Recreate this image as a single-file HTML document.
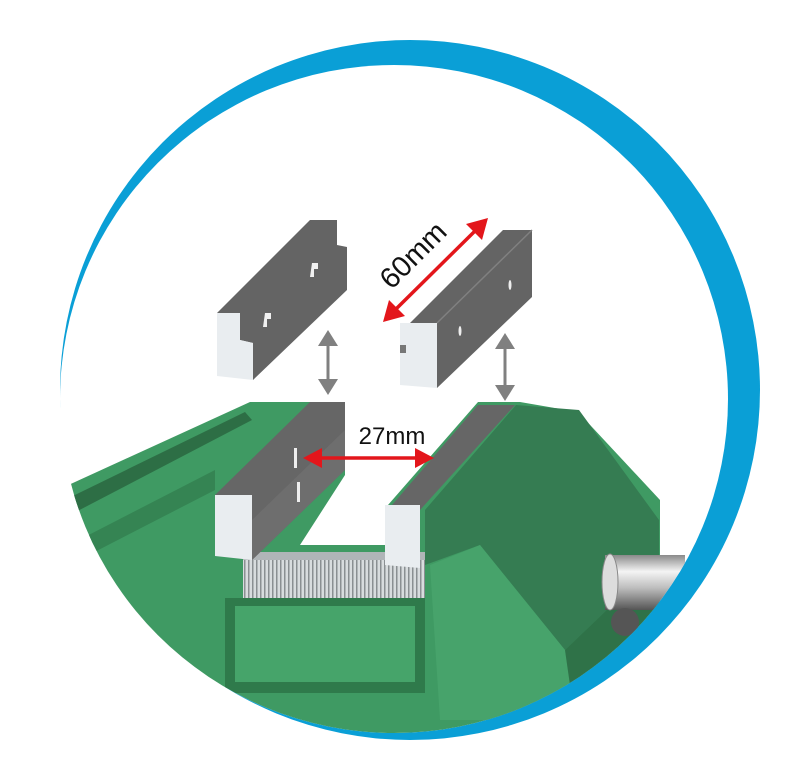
<!DOCTYPE html>
<html><head><meta charset="utf-8"><style>
html,body{margin:0;padding:0;background:#fff;width:800px;height:757px;overflow:hidden}
svg{display:block}
</style></head><body>
<svg width="800" height="757" viewBox="0 0 800 757" xmlns="http://www.w3.org/2000/svg">
<defs>
<clipPath id="c"><circle cx="394" cy="399" r="334"/></clipPath>
<pattern id="teeth" width="4" height="10" patternUnits="userSpaceOnUse">
<rect width="4" height="10" fill="#d8dcde"/><rect width="1.5" height="10" fill="#8a8f92"/>
</pattern>
<linearGradient id="rod" x1="0" y1="0" x2="0" y2="1">
<stop offset="0" stop-color="#8a8a8a"/><stop offset="0.3" stop-color="#f4f4f4"/><stop offset="0.6" stop-color="#bdbdbd"/><stop offset="1" stop-color="#555"/>
</linearGradient>
</defs>
<circle cx="410" cy="390" r="350" fill="#0a9fd6"/>
<circle cx="394" cy="399" r="334" fill="#fff"/>
<g clip-path="url(#c)">
<polygon points="40,498 250,402 520,402 578,412 660,500 660,760 40,760" fill="#3f9a63"/>
<polygon points="40,512 245,412 252,420 45,528" fill="#2d6e45"/>
<polygon points="40,560 215,470 215,490 40,580" fill="#358453"/>
<polygon points="516,405 579,410 659,520 659,560 565,650 480,545 425,565 425,510" fill="#357c52"/>
<polygon points="480,545 565,650 575,720 440,720 430,565" fill="#47a36b"/>
<polygon points="659,560 565,650 575,720 659,700" fill="#2f7248"/>
<polygon points="345,402 478,402 388,505 385,545 300,545 345,475" fill="#fff"/>
<rect x="225" y="598" width="200" height="95" fill="#2f7a4b"/>
<rect x="235" y="606" width="180" height="76" fill="#46a46a"/>
<rect x="243" y="552" width="182" height="46" fill="url(#teeth)"/>
<rect x="243" y="552" width="182" height="8" fill="#b0b5b8"/>
<rect x="605" y="555" width="80" height="55" fill="url(#rod)"/>
<ellipse cx="610" cy="582" rx="8" ry="28" fill="#ddd" stroke="#888"/>
<circle cx="625" cy="622" r="14" fill="#555"/>
<polygon points="215,495 310,402 345,402 345,470 252,560 252,495" fill="#666"/>
<polygon points="252,520 345,430 345,470 252,560" fill="#6e6e6e"/>
<polygon points="215,495 252,495 252,560 215,556" fill="#e9edf0"/>
<rect x="294" y="448" width="3" height="20" fill="#eee"/>
<rect x="297" y="482" width="3" height="20" fill="#eee"/>
<polygon points="392,505 478,405 515,405 420,510" fill="#666"/>
<polygon points="385,505 420,505 420,568 385,565" fill="#e9edf0"/>
</g>
<polygon points="217,313 310,220 337,220 337,245 347,247 347,290 253,380 253,343 240,340 240,313" fill="#646464"/>
<polygon points="217,313 240,313 240,340 253,343 253,380 217,376" fill="#e9edf0"/>
<path d="M312,263 l6,0 l0,6 l-4,0 l0,8 l-4,0z M265,313 l6,0 l0,6 l-4,0 l0,8 l-4,0z" fill="#f0f0f0"/>
<polygon points="410,323 503,230 532,230 532,297 437,388 437,323" fill="#646464"/>
<line x1="437" y1="323" x2="532" y2="230" stroke="#808080" stroke-width="1.5"/>
<polygon points="400,323 437,323 437,388 400,385" fill="#e9edf0"/>
<rect x="400" y="345" width="6" height="8" fill="#777"/>
<ellipse cx="510" cy="285" rx="1.5" ry="5" fill="#eee"/>
<ellipse cx="460" cy="331" rx="1.5" ry="5" fill="#eee"/>
<g stroke="#808080" stroke-width="3" fill="#808080">
<line x1="328" y1="340" x2="328" y2="385"/>
<line x1="505" y1="343" x2="505" y2="392"/>
</g>
<g fill="#808080">
<polygon points="328,330 318,346 338,346"/><polygon points="328,395 318,379 338,379"/>
<polygon points="505,333 495,349 515,349"/><polygon points="505,401 495,385 515,385"/>
</g>
<g stroke="#e3161b" stroke-width="3.5">
<line x1="395" y1="310" x2="476" y2="230"/>
<line x1="318" y1="458" x2="420" y2="458"/>
</g>
<g fill="#e3161b">
<polygon points="383,322 389,300 405,316"/>
<polygon points="488,218 466,224 482,240"/>
<polygon points="303,458 322,448 322,468"/>
<polygon points="434,458 415,448 415,468"/>
</g>
<text x="0" y="0" transform="translate(420,262) rotate(-45)" text-anchor="middle" font-family="Liberation Sans, sans-serif" font-size="29" fill="#111">60mm</text>
<text x="392" y="444" text-anchor="middle" font-family="Liberation Sans, sans-serif" font-size="24" fill="#111">27mm</text>
</svg>
</body></html>
